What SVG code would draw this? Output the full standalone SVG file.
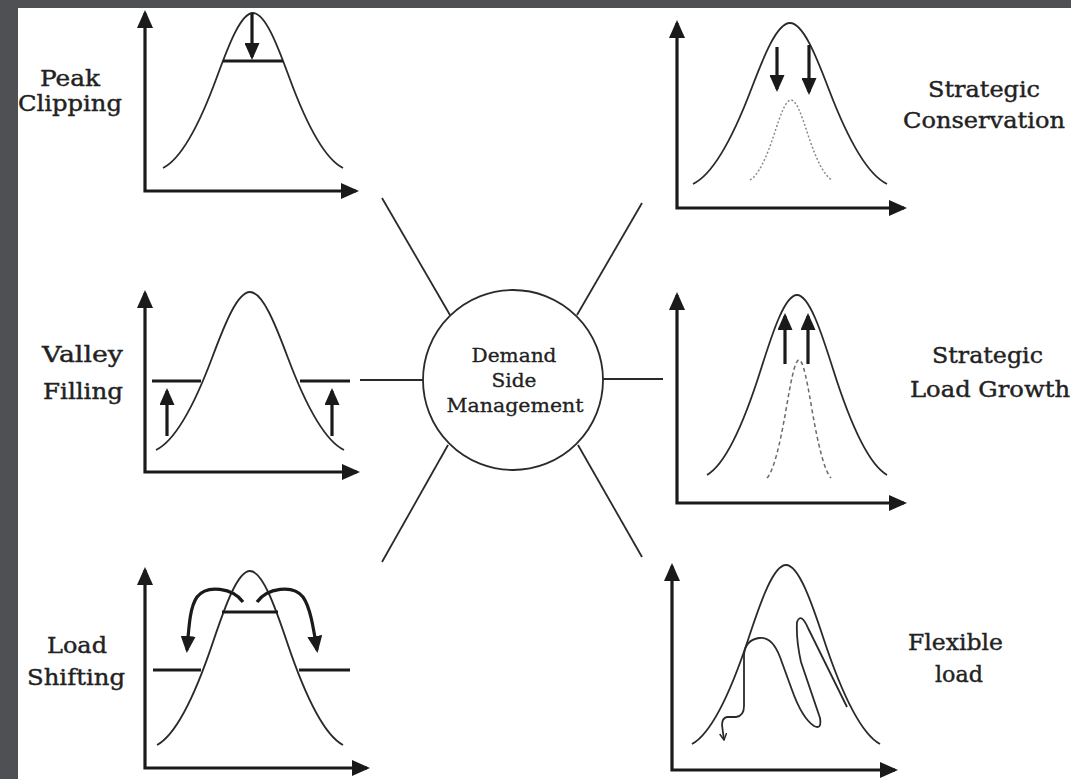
<svg xmlns="http://www.w3.org/2000/svg" width="1071" height="779" viewBox="0 0 1071 779">
<style>
  .ax{fill:none;stroke:#1a1a1a;stroke-width:3.2;marker-start:url(#ah);marker-end:url(#ah)}
  .cv{fill:none;stroke:#2a2a2a;stroke-width:1.8}
  .dot{fill:none;stroke:#8a8a8a;stroke-width:1.5;stroke-dasharray:2 2}
  .dash{fill:none;stroke:#6a6a6a;stroke-width:1.5;stroke-dasharray:4 3}
  .bar{fill:none;stroke:#1a1a1a;stroke-width:3.2}
  .arr{fill:none;stroke:#1a1a1a;stroke-width:3.2;marker-end:url(#ph)}
  .sp{fill:none;stroke:#2a2a2a;stroke-width:1.8}
  .lb{font-family:"DejaVu Serif","Liberation Serif",serif;font-size:22px;fill:#222;stroke:#222;stroke-width:0.4;text-anchor:middle}
  .cl{font-family:"DejaVu Serif","Liberation Serif",serif;font-size:18px;fill:#222;stroke:#222;stroke-width:0.3;text-anchor:middle}
</style>
<defs>
  <marker id="ah" viewBox="0 0 18 16" refX="15" refY="8" markerWidth="18" markerHeight="16" markerUnits="userSpaceOnUse" orient="auto-start-reverse">
    <path d="M0 0 L18 8 L0 16 Z" fill="#1a1a1a"/>
  </marker>
  <marker id="ph" viewBox="0 0 17 15" refX="14" refY="7.5" markerWidth="17" markerHeight="15" markerUnits="userSpaceOnUse" orient="auto">
    <path d="M0 0 L17 7.5 L0 15 Z" fill="#1a1a1a"/>
  </marker>
  <marker id="sm" viewBox="0 0 8 8" refX="7" refY="4" markerWidth="8" markerHeight="8" markerUnits="userSpaceOnUse" orient="auto">
    <path d="M0.5 0.5 L7 4 L0.5 7.5" fill="none" stroke="#2a2a2a" stroke-width="1.5"/>
  </marker>
</defs>
<rect x="0" y="0" width="1071" height="779" fill="#ffffff"/>
<rect x="0" y="0" width="18" height="779" fill="#4f5053"/>
<rect x="0" y="0" width="1071" height="8" fill="#4f5053"/>

<g id="connectors">
  <line class="sp" x1="382" y1="198" x2="450" y2="315"/>
  <line class="sp" x1="642" y1="203" x2="577" y2="315"/>
  <line class="sp" x1="360" y1="380" x2="423" y2="380"/>
  <line class="sp" x1="603" y1="379" x2="663" y2="379"/>
  <line class="sp" x1="448" y1="445" x2="382" y2="562"/>
  <line class="sp" x1="578" y1="445" x2="642" y2="557"/>
</g>

<g id="dsm-center">
  <circle cx="513" cy="380" r="90" fill="#fff" stroke="#2a2a2a" stroke-width="1.8"/>
  <text class="cl" x="514" y="362" textLength="85" lengthAdjust="spacingAndGlyphs">Demand</text>
  <text class="cl" x="514" y="387" textLength="45" lengthAdjust="spacingAndGlyphs">Side</text>
  <text class="cl" x="515" y="412" textLength="137" lengthAdjust="spacingAndGlyphs">Management</text>
</g>

<g id="peak-clipping">
  <path class="ax" d="M145 13 V191 H356"/>
  <path class="cv" d="M163 168 C181 159.1 199 126 217 76.8 C229 44 241 13 253 13 C265 13 277 44 289 76.8 C307 126 325 159.1 343 168"/>
  <line class="bar" x1="223" y1="61" x2="283" y2="61"/>
  <line class="arr" x1="252" y1="13" x2="252" y2="57"/>
  <text class="lb" x="70" y="86" textLength="60" lengthAdjust="spacingAndGlyphs">Peak</text>
  <text class="lb" x="70" y="111" textLength="104" lengthAdjust="spacingAndGlyphs">Clipping</text>
</g>

<g id="valley-filling">
  <path class="ax" d="M145 293 V472 H357"/>
  <path class="cv" d="M156 450 C174.8 440.9 193.6 407.2 212.4 357 C224.9 323.6 237.5 292 250 292 C262.5 292 275.1 323.6 287.6 357 C306.4 407.2 325.2 440.9 344 450"/>
  <line class="bar" x1="152" y1="381" x2="201" y2="381"/>
  <line class="bar" x1="300" y1="381" x2="350" y2="381"/>
  <line class="arr" x1="167" y1="436" x2="167" y2="391"/>
  <line class="arr" x1="332" y1="436" x2="332" y2="391"/>
  <text class="lb" x="82.5" y="362" textLength="81" lengthAdjust="spacingAndGlyphs">Valley</text>
  <text class="lb" x="83" y="399" textLength="80" lengthAdjust="spacingAndGlyphs">Filling</text>
</g>

<g id="load-shifting">
  <path class="ax" d="M145 570 V768 H367"/>
  <path class="cv" d="M157 745 C175.6 735 194.2 697.8 212.8 642.6 C225.2 605.8 237.6 571 250 571 C262.4 571 274.8 605.8 287.2 642.6 C305.8 697.8 324.4 735 343 745"/>
  <line class="bar" x1="222" y1="612" x2="278" y2="612"/>
  <line class="bar" x1="153" y1="670" x2="201" y2="670"/>
  <line class="bar" x1="299" y1="670" x2="350" y2="670"/>
  <path class="arr" d="M243 602 C233 588 207 584 197 597 C190 607 189 625 187 650"/>
  <path class="arr" d="M257 602 C267 588 293 584 303 597 C310 607 313 625 317 650"/>
  <text class="lb" x="77" y="653" textLength="60" lengthAdjust="spacingAndGlyphs">Load</text>
  <text class="lb" x="76" y="685" textLength="98" lengthAdjust="spacingAndGlyphs">Shifting</text>
</g>

<g id="strategic-conservation">
  <path class="ax" d="M677 23 V208 H904"/>
  <path class="cv" d="M693 184 C712.4 174.8 731.8 140.3 751.2 89.3 C764.1 55.2 777.1 23 790 23 C802.9 23 815.9 55.2 828.8 89.3 C848.2 140.3 867.6 174.8 887 184"/>
  <path class="dot" d="M750 180 C758.2 175.4 766.4 158.3 774.6 132.9 C780.1 116 785.5 100 791 100 C796.5 100 801.9 116 807.4 132.9 C815.6 158.3 823.8 175.4 832 180"/>
  <line class="arr" x1="777" y1="47" x2="777" y2="89"/>
  <line class="arr" x1="809" y1="45" x2="809" y2="92"/>
  <text class="lb" x="984" y="97" textLength="112" lengthAdjust="spacingAndGlyphs">Strategic</text>
  <text class="lb" x="984" y="128" textLength="162" lengthAdjust="spacingAndGlyphs">Conservation</text>
</g>

<g id="strategic-load-growth">
  <path class="ax" d="M677 295 V503 H904"/>
  <path class="cv" d="M707 475 C725 464.7 743 426.2 761 369.1 C773 331 785 295 797 295 C809 295 821 331 833 369.1 C851 426.2 869 464.7 887 475"/>
  <path class="dash" d="M767 478 C773.4 471.2 779.8 446 786.2 408.6 C790.5 383.6 794.7 360 799 360 C803.3 360 807.5 383.6 811.8 408.6 C818.2 446 824.6 471.2 831 478"/>
  <line class="arr" x1="785" y1="364" x2="785" y2="316"/>
  <line class="arr" x1="808" y1="364" x2="808" y2="316"/>
  <text class="lb" x="987.5" y="363" textLength="111" lengthAdjust="spacingAndGlyphs">Strategic</text>
  <text class="lb" x="990" y="397" textLength="160" lengthAdjust="spacingAndGlyphs">Load Growth</text>
</g>

<g id="flexible-load">
  <path class="ax" d="M672 566 V770 H895"/>
  <path class="cv" d="M692 744 C710.8 733.7 729.6 695.5 748.4 638.7 C760.9 600.8 773.5 565 786 565 C798.5 565 811.1 600.8 823.6 638.7 C842.4 695.5 861.2 733.7 880 744"/>
  <path class="cv" style="marker-end:url(#sm)" d="M847 707 L808 628 Q801 612 797 622 Q796 640 801 662 L820 718 Q822 730 814 726 Q802 718 792 690 L780 657 Q772 636 759 638 Q745 640 744 655 L744 706 Q744 716 736 717 L727 717 Q722 718 722 725 L724 740"/>
  <text class="lb" x="955.5" y="650" textLength="95" lengthAdjust="spacingAndGlyphs">Flexible</text>
  <text class="lb" x="959" y="682" textLength="48" lengthAdjust="spacingAndGlyphs">load</text>
</g>
</svg>
